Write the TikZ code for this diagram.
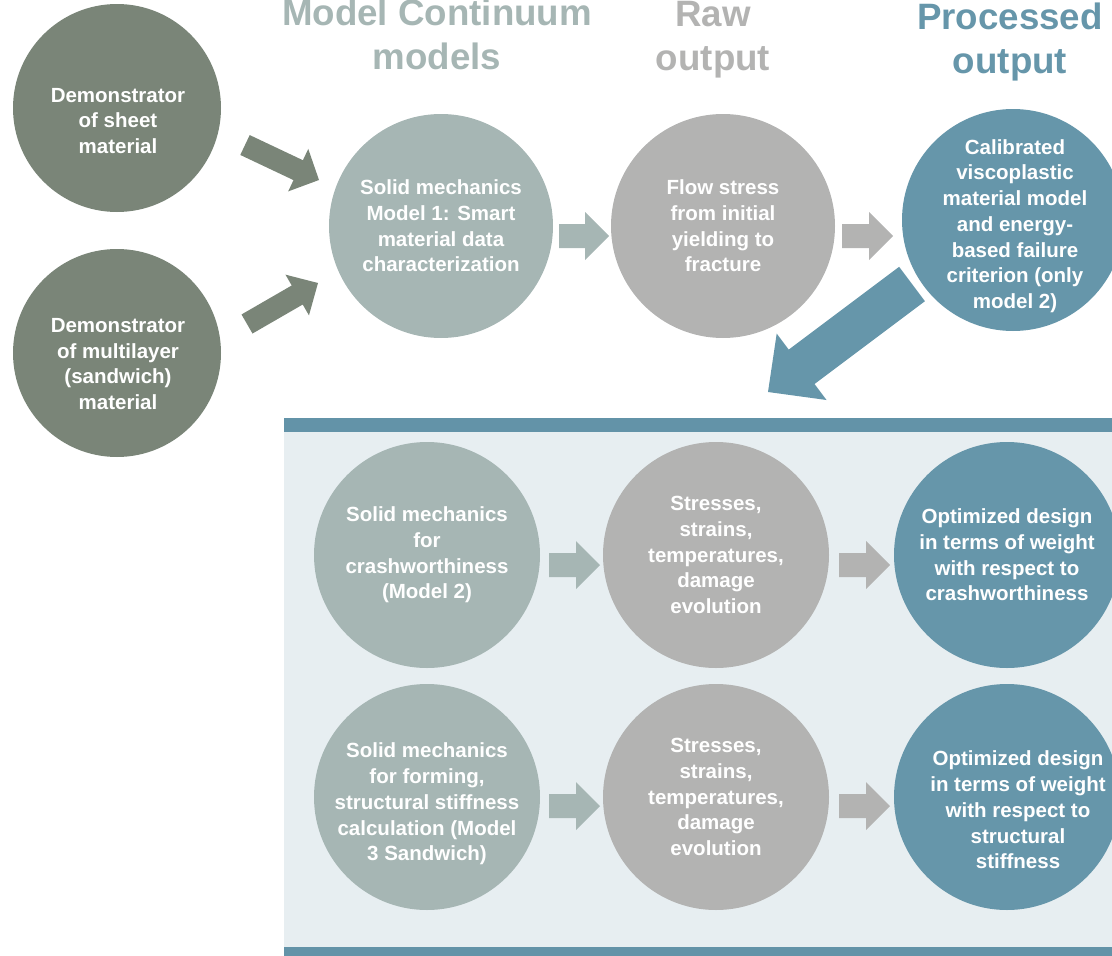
\documentclass[tikz,border=0pt]{standalone}
\usepackage{fontspec}
\setmainfont{Liberation Sans}
\usetikzlibrary{calc}
\definecolor{dkgreen}{HTML}{7A8578}
\definecolor{sage}{HTML}{A6B6B4}
\definecolor{greyc}{HTML}{B3B3B2}
\definecolor{bluec}{HTML}{6696AA}
\definecolor{panel}{HTML}{E7EEF1}
\definecolor{barc}{HTML}{6393A8}
\newcommand\blockarrow[6]{%
  \path ($(#2)!#5!(#1)$) coordinate (bahead);
  \fill[#6] ($(#1)!#3!90:(#2)$) -- ($(bahead)!#3!-90:(#1)$) -- ($(bahead)!#4!-90:(#1)$) -- (#2)
    -- ($(bahead)!#4!90:(#1)$) -- ($(bahead)!#3!90:(#1)$) -- ($(#1)!#3!-90:(#2)$) -- cycle;
}
\tikzset{
  circ/.style={circle, inner sep=0pt, minimum size=#1, align=center, text=white,
    font=\fontsize{20.5}{25.7}\selectfont\bfseries},
  circ/.default=224pt,
  txt/.style={inner sep=0pt, align=center, text=white, font=\fontsize{20.5}{25.7}\selectfont\bfseries},
  head/.style={inner sep=0pt, align=center, anchor=north, font=\fontsize{36.7}{44}\selectfont\bfseries},
}
\begin{document}
\begin{tikzpicture}[x=1pt,y=-1pt]
\useasboundingbox (0,0) rectangle (1112,956);
\clip (0,0) rectangle (1112,956);
% panel
\fill[panel] (284,418) rectangle (1112,956);
\fill[barc] (284,418) rectangle (1112,432);
\fill[barc] (284,947) rectangle (1112,956);
% headers
\node[head, text=sage] (h1) at (437,-1) {Model Continuum\\models};
\node[head, text=greyc] (h2) at (713,1) {Raw\\output};
\node[head, text=bluec] (h3) at (1010,2.5) {Processed\\output};
% row 1
\node[circ=208pt, fill=dkgreen] (d1) at (117,108) {};
\node[txt] (d1t) at (118,121) {Demonstrator\\of sheet\\material};
\node[circ=208pt, fill=dkgreen] (d2) at (117,353) {};
\node[txt] (d2t) at (118,364) {Demonstrator\\of multilayer\\(sandwich)\\material};
\node[circ, fill=sage] (m1) at (441,226) {Solid mechanics\\Model 1: Smart\\material data\\characterization};
\node[circ, fill=greyc] (f1) at (723,226) {Flow stress\\from initial\\yielding to\\fracture};
\node[circ=222pt, fill=bluec] (c1) at (1013,220) {};
\node[txt] (c1t) at (1015,226) {Calibrated\\viscoplastic\\material model\\and energy-\\based failure\\criterion (only\\model 2)};
% row 2
\node[circ=226pt, fill=sage] (s2) at (427,555) {Solid mechanics\\for\\crashworthiness\\(Model 2)};
\node[circ=226pt, fill=greyc] (t2) at (716,555) {Stresses,\\strains,\\temperatures,\\damage\\evolution};
\node[circ=226pt, fill=bluec] (o2) at (1007,555) {Optimized design\\in terms of weight\\with respect to\\crashworthiness};
% row 3
\node[circ=226pt, fill=sage] (s3) at (427,797) {};
\node[txt] (s3t) at (427,804) {Solid mechanics\\for forming,\\structural stiffness\\calculation (Model\\3 Sandwich)};
\node[circ=226pt, fill=greyc] (t3) at (716,797) {Stresses,\\strains,\\temperatures,\\damage\\evolution};
\node[circ=226pt, fill=bluec] (o3) at (1007,797) {};
\node[txt] (o3t) at (1018,810) {Optimized design\\in terms of weight\\with respect to\\structural\\stiffness};
% arrow end points
\coordinate (l1s) at (245,145); \coordinate (l1e) at (319,180);
\coordinate (l2s) at (247,324); \coordinate (l2e) at (318,283);
\coordinate (bgs) at (912,284); \coordinate (bge) at (768,392);
\coordinate (r1as) at (559,236); \coordinate (r1ae) at (609,236);
\coordinate (r1bs) at (842,236); \coordinate (r1be) at (893,236);
\coordinate (r2as) at (549,565); \coordinate (r2ae) at (600,565);
\coordinate (r2bs) at (839,565); \coordinate (r2be) at (890,565);
\coordinate (r3as) at (549,806); \coordinate (r3ae) at (600,806);
\coordinate (r3bs) at (839,806); \coordinate (r3be) at (890,806);
% arrows
\blockarrow{l1s}{l1e}{11pt}{23.5pt}{23pt}{dkgreen}
\blockarrow{l2s}{l2e}{11pt}{23.5pt}{24pt}{dkgreen}
\blockarrow{bgs}{bge}{21.5pt}{41.5pt}{42pt}{bluec}
\blockarrow{r1as}{r1ae}{12pt}{24pt}{24pt}{sage}
\blockarrow{r1bs}{r1be}{12pt}{24pt}{24pt}{greyc}
\blockarrow{r2as}{r2ae}{12pt}{24pt}{24pt}{sage}
\blockarrow{r2bs}{r2be}{12pt}{24pt}{24pt}{greyc}
\blockarrow{r3as}{r3ae}{12pt}{24pt}{24pt}{sage}
\blockarrow{r3bs}{r3be}{12pt}{24pt}{24pt}{greyc}
\end{tikzpicture}
\end{document}
